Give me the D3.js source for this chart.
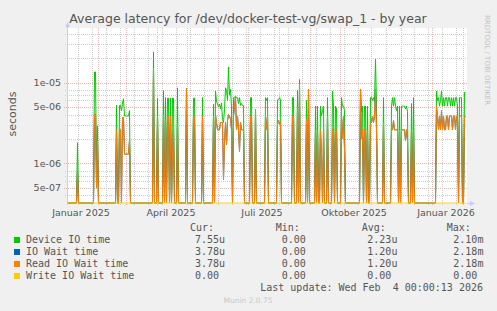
<!DOCTYPE html>
<html>
<head>
<meta charset="utf-8">
<script src="https://cdn.jsdelivr.net/npm/d3@7"></script>
<style>
  body { margin: 0; background: #f0f0f0; }
  svg { display: block; }
  text { font-family: "DejaVu Sans", sans-serif; }
  .mono { font-family: "DejaVu Sans Mono", monospace; white-space: pre; }
</style>
</head>
<body>
<div id="chart"></div>
<script>
// day offsets (from 1 Jan 2025) that had any activity; every other day is 0
const activeDays = [
  10, 11, 27, 28, 29, 30, 31,
  49, 50, 52, 53, 54, 55, 56, 57, 58, 59, 60, 61, 62, 63,
  86, 87, 90, 91, 96, 97, 98, 99, 100, 101, 102, 103, 104, 105, 106, 107, 110, 111, 119, 120,
  126, 127, 128, 135, 136,
  146, 147, 148, 149, 150, 151, 152, 153, 154, 155, 156, 157, 158, 159, 160, 161, 162, 163, 164, 165,
  166, 167, 168, 169, 170, 171, 172, 173, 174, 175, 176, 177, 183, 184, 185, 188, 189,
  198, 199, 200, 201, 210, 211, 212, 213, 214, 225, 226, 227, 230, 231, 232, 233,
  239, 240, 241, 242, 248, 249, 250, 251, 253, 254, 255, 256, 257, 260, 261,
  265, 266, 267, 268, 269, 270, 274, 275, 276, 277, 278,
  292, 293, 294, 295, 296, 297, 298, 299, 300, 301, 303, 304, 305, 306, 307, 308, 309, 310,
  316, 317, 324, 325, 326, 327, 328, 329, 330, 331, 332, 333, 334, 335, 336, 337, 338, 339, 340, 341,
  344, 345, 346, 347,
  369, 370, 371, 372, 373, 374, 375, 376, 377, 378, 379, 380, 381, 382, 383, 384, 385, 386, 387, 388,
  389, 390, 391, 392, 393, 394, 395, 396, 397, 398
];
const deviceTime = [
  1.8e-6, 0, 1.35e-5, 1.35e-5, 6.5e-7, 2.9e-6, 0,
  5.2e-6, 0, 5.2e-6, 5.2e-6, 4.5e-6, 5.6e-6, 6.3e-6, 3.85e-6, 3.85e-6, 3.85e-6, 3.85e-6, 3.85e-6, 4.5e-6, 0,
  2.4e-5, 0, 6.4e-6, 0, 7.9e-6, 0, 6.5e-6, 0, 6.4e-6, 6.4e-6, 0, 6.4e-6, 0, 6.4e-6, 6.4e-6, 0, 8.6e-6, 0, 8.4e-6, 0,
  6.4e-6, 6.4e-6, 0, 6.5e-6, 0,
  5.4e-6, 0, 7.85e-6, 5.9e-6, 5.4e-6, 5.0e-6, 5.4e-6, 4.7e-6, 5.6e-6, 3.5e-6, 3.2e-6, 4.6e-6, 8.6e-6, 8.0e-6, 6.0e-6, 1.55e-5, 7.0e-6, 8.2e-6, 5.0e-6, 0,
  6.5e-6, 6.5e-6, 6.8e-6, 6.5e-6, 6.5e-6, 5.5e-6, 6.5e-6, 5.2e-6, 5.5e-6, 5.2e-6, 5.2e-6, 0, 6.5e-6, 6.5e-6, 0, 4.7e-6, 0,
  6.5e-6, 6.0e-6, 6.5e-6, 0, 6.1e-6, 6.1e-6, 6.5e-6, 6.1e-6, 0, 6.5e-6, 6.5e-6, 0, 8.0e-6, 0, 1.09e-5, 0,
  6.0e-6, 0, 8.2e-6, 0, 5.1e-6, 0, 5.1e-6, 0, 5.1e-6, 3.85e-6, 4.5e-6, 5.1e-6, 0, 6.5e-6, 0,
  7.85e-6, 5.1e-6, 0, 5.1e-6, 4.7e-6, 0, 6.5e-6, 5.1e-6, 5.1e-6, 4.5e-6, 0,
  0, 8.2e-6, 4.3e-6, 5.1e-6, 0, 5.1e-6, 5.1e-6, 0, 5.1e-6, 0, 6.5e-6, 6.5e-6, 6.0e-6, 6.5e-6, 5.8e-6, 1.94e-5, 5.0e-6, 0,
  6.5e-6, 0, 5.1e-6, 6.5e-6, 5.1e-6, 6.5e-6, 5.1e-6, 4.5e-6, 5.1e-6, 0, 5.1e-6, 0, 5.1e-6, 5.1e-6, 5.1e-6, 5.1e-6, 4.7e-6, 5.1e-6, 4.4e-6, 0,
  5.5e-6, 0, 6.5e-6, 0,
  7.85e-6, 6.0e-6, 6.5e-6, 5.1e-6, 6.0e-6, 7.85e-6, 5.1e-6, 6.5e-6, 5.1e-6, 6.5e-6, 6.5e-6, 5.1e-6, 6.5e-6, 6.5e-6, 5.1e-6, 6.5e-6, 5.1e-6, 6.5e-6, 5.1e-6, 6.5e-6,
  6.5e-6, 5.1e-6, 0, 6.5e-6, 6.5e-6, 6.5e-6, 0, 0, 7.55e-6, 7.55e-6
];
const readWait = [
  8.5e-7, 0, 4.0e-6, 4.0e-6, 5.0e-7, 1.9e-6, 0,
  2.6e-6, 0, 2.6e-6, 2.6e-6, 0, 3.7e-6, 3.7e-6, 1.3e-6, 1.3e-6, 1.3e-6, 1.3e-6, 1.3e-6, 1.95e-6, 0,
  1.5e-5, 0, 3.85e-6, 0, 4.0e-6, 0, 3.5e-6, 0, 3.85e-6, 3.85e-6, 0, 3.85e-6, 0, 1.3e-6, 2.6e-6, 0, 3.2e-6, 0, 8.4e-6, 0,
  3.85e-6, 3.85e-6, 0, 3.85e-6, 0,
  3.85e-6, 0, 4.0e-6, 3.2e-6, 2.6e-6, 2.6e-6, 2.6e-6, 3.2e-6, 3.2e-6, 3.2e-6, 6.3e-7, 1.8e-6, 3.2e-6, 1.7e-6, 3.4e-6, 4.0e-6, 3.85e-6, 3.5e-6, 2.6e-6, 0,
  3.85e-6, 5.0e-6, 6.8e-6, 2.6e-6, 3.85e-6, 2.6e-6, 1.4e-6, 3.2e-6, 2.6e-6, 2.6e-6, 2.6e-6, 0, 3.85e-6, 3.85e-6, 0, 4.7e-6, 0,
  3.85e-6, 2.6e-6, 3.85e-6, 0, 3.2e-6, 3.4e-6, 3.0e-6, 3.2e-6, 0, 3.85e-6, 3.85e-6, 0, 5.0e-6, 0, 9.5e-6, 0,
  3.5e-6, 0, 8.2e-6, 0, 2.6e-6, 0, 2.6e-6, 0, 2.6e-6, 1.3e-6, 0, 2.6e-6, 0, 3.85e-6, 0,
  2.6e-6, 2.6e-6, 0, 2.6e-6, 2.6e-6, 0, 3.85e-6, 2.0e-6, 3.85e-6, 1.5e-6, 0,
  0, 8.2e-6, 2.0e-6, 2.6e-6, 0, 2.6e-6, 2.6e-6, 0, 2.6e-6, 0, 3.2e-6, 3.2e-6, 3.85e-6, 3.2e-6, 3.85e-6, 8.2e-6, 2.6e-6, 0,
  3.2e-6, 0, 2.6e-6, 2.6e-6, 3.4e-6, 2.6e-6, 2.6e-6, 2.6e-6, 2.6e-6, 0, 2.6e-6, 0, 2.6e-6, 2.6e-6, 2.6e-6, 2.6e-6, 1.9e-6, 2.6e-6, 1.9e-6, 0,
  2.6e-6, 0, 2.6e-6, 0,
  5.1e-6, 3.85e-6, 2.6e-6, 3.85e-6, 2.6e-6, 4.5e-6, 2.6e-6, 3.85e-6, 2.6e-6, 2.6e-6, 3.85e-6, 3.85e-6, 2.6e-6, 3.85e-6, 3.85e-6, 3.85e-6, 2.6e-6, 3.85e-6, 3.85e-6, 2.6e-6,
  3.85e-6, 3.85e-6, 0, 3.85e-6, 3.85e-6, 3.85e-6, 0, 0, 3.78e-6, 3.78e-6
];
// write wait never left zero
const writeWait = activeDays.map(() => 0);

const yTicks = [1e-5, 5e-6, 1e-6, 5e-7];
const yTickLabels = ["1e-05", "5e-06", "1e-06", "5e-07"];
const monthLabels = ["Januar 2025", "April 2025", "Juli 2025", "Oktober 2025", "Januar 2026"];
const monthLabelDates = [new Date(2025, 0, 1), new Date(2025, 3, 1), new Date(2025, 6, 1), new Date(2025, 9, 1), new Date(2026, 0, 1)];

const legendNames = ["Device IO time", "IO Wait time", "Read IO Wait time", "Write IO Wait time"];
const legendColors = ["#00cc00", "#0066b3", "#ff8000", "#ffcc00"];
const legendCur = ["7.55u", "3.78u", "3.78u", "0.00"];
const legendMin = ["0.00", "0.00", "0.00", "0.00"];
const legendAvg = ["2.23u", "1.20u", "1.20u", "0.00"];
const legendMax = ["2.10m", "2.18m", "2.18m", "0.00"];

const width = 497, height = 311;
const plot = {left: 67, right: 467, top: 28, bottom: 203};

const start = new Date(2025, 0, 1);
const end = d3.timeDay.offset(start, 400);

const svg = d3.select("#chart").append("svg")
  .attr("width", width)
  .attr("height", height);

svg.append("rect").attr("width", width).attr("height", height).attr("fill", "#f0f0f0");
svg.append("rect")
  .attr("x", plot.left).attr("y", plot.top)
  .attr("width", plot.right - plot.left).attr("height", plot.bottom - plot.top)
  .attr("fill", "#ffffff");

const xScale = d3.scaleTime().domain([start, end]).range([plot.left, plot.right]);
const yScale = d3.scaleLog().domain([3.23e-7, 4.73e-5]).range([plot.bottom, plot.top]).clamp(true);

const grid = svg.append("g");

// minor vertical grid every two weeks, major on month starts
const monthStarts = d3.timeMonth.range(d3.timeMonth.ceil(start), end);
const minorDays = d3.timeDay.range(new Date(2025, 0, 12), end, 14)
  .filter((d) => !monthStarts.some((m) => Math.abs(xScale(m) - xScale(d)) < 2));

grid.selectAll("line.vminor").data(minorDays).enter().append("line")
  .attr("x1", (d) => Math.round(xScale(d)) + 0.5).attr("x2", (d) => Math.round(xScale(d)) + 0.5)
  .attr("y1", plot.top).attr("y2", plot.bottom + 2)
  .attr("stroke", "#cccccc").attr("stroke-dasharray", "1,1");

// log minor lines at 2,3,4,6,7,8 x 10^n
const minorVals = [];
[-7, -6, -5].forEach((e) => [2, 3, 4, 6, 7, 8].forEach((m) => {
  const v = m * Math.pow(10, e);
  if (v > yScale.domain()[0] && v < yScale.domain()[1]) minorVals.push(v);
}));
grid.selectAll("line.hminor").data(minorVals).enter().append("line")
  .attr("x1", plot.left - 2).attr("x2", plot.right)
  .attr("y1", (d) => Math.round(yScale(d)) + 0.5).attr("y2", (d) => Math.round(yScale(d)) + 0.5)
  .attr("stroke", "#cccccc").attr("stroke-dasharray", "1,1");

grid.selectAll("line.vmajor").data(monthStarts).enter().append("line")
  .attr("x1", (d) => Math.round(xScale(d)) + 0.5).attr("x2", (d) => Math.round(xScale(d)) + 0.5)
  .attr("y1", plot.top).attr("y2", plot.bottom + 3)
  .attr("stroke", "#f0b4b4").attr("stroke-dasharray", "1,1");

grid.selectAll("line.hmajor").data(yTicks).enter().append("line")
  .attr("x1", plot.left - 3).attr("x2", plot.right)
  .attr("y1", (d) => Math.round(yScale(d)) + 0.5).attr("y2", (d) => Math.round(yScale(d)) + 0.5)
  .attr("stroke", "#f0b4b4").attr("stroke-dasharray", "1,1");

// series
const byDay = (values) => {
  const lookup = new Map(activeDays.map((d, i) => [d, values[i]]));
  return d3.range(0, 399).map((d) => ({date: d3.timeDay.offset(start, d), v: lookup.get(d) || 0}));
};
const ioWait = readWait.map((v, i) => v + writeWait[i]);

const line = d3.line()
  .x((d) => xScale(d.date) + 0.5)
  .y((d) => d.v > 0 ? yScale(d.v) : plot.bottom)
  .curve(d3.curveLinear);

const series = [deviceTime, ioWait, readWait, writeWait];
series.forEach((values, i) => {
  svg.append("path")
    .datum(byDay(values))
    .attr("d", line)
    .attr("fill", "none")
    .attr("stroke", legendColors[i])
    .attr("stroke-width", 1);
});

// axes
svg.append("line")
  .attr("x1", plot.left + 0.5).attr("x2", plot.left + 0.5)
  .attr("y1", plot.bottom + 2).attr("y2", plot.top - 3)
  .attr("stroke", "#c8c8ff");
svg.append("path").attr("d", `M${plot.left - 2},${plot.top - 1} L${plot.left + 0.5},${plot.top - 6} L${plot.left + 3},${plot.top - 1} Z`)
  .attr("fill", "#c8c8ff");
svg.append("line")
  .attr("x1", plot.right).attr("x2", plot.right + 5)
  .attr("y1", plot.bottom + 0.5).attr("y2", plot.bottom + 0.5)
  .attr("stroke", "#c8c8ff");
svg.append("path").attr("d", `M${plot.right + 3},${plot.bottom - 2} L${plot.right + 8},${plot.bottom + 0.5} L${plot.right + 3},${plot.bottom + 3} Z`)
  .attr("fill", "#c8c8ff");

// tick labels
svg.selectAll("text.ylab").data(yTicks).enter().append("text")
  .attr("x", 61).attr("y", (d) => yScale(d) + 3.5)
  .attr("text-anchor", "end")
  .attr("font-size", "9.5px").attr("fill", "#555")
  .text((d, i) => yTickLabels[i]);

svg.selectAll("text.xlab").data(monthLabelDates).enter().append("text")
  .attr("x", (d) => xScale(d3.timeDay.offset(d, 14)))
  .attr("y", 216)
  .attr("text-anchor", "middle")
  .attr("font-size", "9.5px").attr("fill", "#555")
  .text((d, i) => monthLabels[i]);

// titles
svg.append("text")
  .attr("x", 248).attr("y", 23)
  .attr("text-anchor", "middle")
  .attr("font-size", "12.5px").attr("fill", "#555")
  .text("Average latency for /dev/docker-test-vg/swap_1 - by year");

svg.append("text")
  .attr("transform", "translate(15.5,114) rotate(-90)")
  .attr("text-anchor", "middle")
  .attr("font-size", "11px").attr("fill", "#555")
  .text("seconds");

svg.append("text")
  .attr("transform", "translate(485,15) rotate(90)")
  .attr("font-size", "7px").attr("fill", "#c0c0c0")
  .text("RRDTOOL / TOBI OETIKER");

// legend
const legend = svg.append("g").attr("class", "mono");
const headers = [["Cur:", 190], ["Min:", 275.7], ["Avg:", 361.7], ["Max:", 446.7]];
headers.forEach(([t, x]) => {
  legend.append("text").attr("class", "mono").attr("x", x).attr("y", 231)
    .attr("font-size", "10px").attr("fill", "#555").text(t);
});
const cols = [[legendCur, 195], [legendMin, 281.7], [legendAvg, 367.3], [legendMax, 453.3]];
legendNames.forEach((name, i) => {
  const y = 243 + i * 12;
  legend.append("rect").attr("x", 14).attr("y", y - 6).attr("width", 6).attr("height", 6)
    .attr("fill", legendColors[i]);
  legend.append("text").attr("class", "mono").attr("x", 26).attr("y", y)
    .attr("font-size", "10px").attr("fill", "#555").text(name);
  cols.forEach(([vals, x]) => {
    legend.append("text").attr("class", "mono").attr("x", x).attr("y", y)
      .attr("font-size", "10px").attr("fill", "#555").text(vals[i]);
  });
});

legend.append("text").attr("class", "mono").attr("x", 483).attr("y", 291)
  .attr("text-anchor", "end")
  .attr("font-size", "10px").attr("fill", "#555")
  .text("Last update: Wed Feb  4 00:00:13 2026");

svg.append("text")
  .attr("x", 248).attr("y", 303)
  .attr("text-anchor", "middle")
  .attr("font-size", "7.5px").attr("fill", "#c8c8c8")
  .text("Munin 2.0.75");
</script>
</body>
</html>
